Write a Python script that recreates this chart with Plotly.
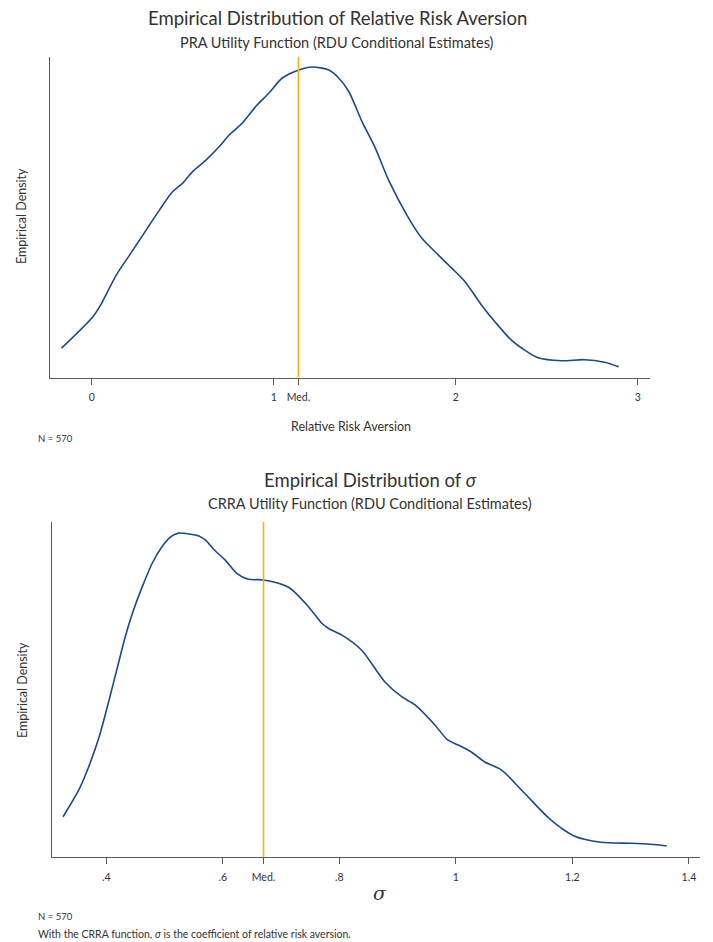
import plotly.graph_objects as go

# Kernel density of the PRA relative risk aversion estimates
rra_x = [-0.166, 0.007, 0.044, 0.135, 0.208, 0.299, 0.372, 0.445, 0.500, 0.554,
         0.628, 0.701, 0.755, 0.828, 0.901, 0.974, 1.047, 1.138, 1.211, 1.303,
         1.357, 1.412, 1.485, 1.558, 1.631, 1.741, 1.813, 1.905, 1.978, 2.051,
         2.142, 2.215, 2.306, 2.379, 2.452, 2.580, 2.708, 2.817, 2.895]
rra_density = [0.059, 0.122, 0.142, 0.205, 0.245, 0.295, 0.335, 0.372, 0.389, 0.412,
               0.435, 0.462, 0.485, 0.509, 0.542, 0.569, 0.599, 0.615, 0.621, 0.615,
               0.599, 0.572, 0.512, 0.459, 0.395, 0.319, 0.279, 0.245, 0.219, 0.192,
               0.145, 0.112, 0.075, 0.055, 0.040, 0.034, 0.036, 0.031, 0.022]
rra_median = 1.136
rra_ticks = [0, 1, 2, 3]
rra_ticktext = ["0", "1", "2", "3"]

# Kernel density of the CRRA sigma estimates
sig_x = [0.326, 0.353, 0.370, 0.388, 0.405, 0.422, 0.432, 0.445, 0.462, 0.479,
         0.496, 0.510, 0.524, 0.542, 0.559, 0.570, 0.587, 0.604, 0.624, 0.644,
         0.670, 0.713, 0.747, 0.770, 0.781, 0.804, 0.838, 0.878, 0.907, 0.930,
         0.964, 0.986, 1.004, 1.026, 1.049, 1.078, 1.118, 1.163, 1.203, 1.249,
         1.300, 1.334, 1.362]
sig_density = [0.365, 0.606, 0.815, 1.085, 1.416, 1.766, 1.971, 2.196, 2.436, 2.646,
               2.796, 2.881, 2.917, 2.910, 2.892, 2.856, 2.759, 2.676, 2.556, 2.502,
               2.496, 2.430, 2.255, 2.106, 2.061, 2.001, 1.866, 1.580, 1.445, 1.371,
               1.191, 1.056, 1.011, 0.950, 0.860, 0.786, 0.576, 0.336, 0.192, 0.135,
               0.126, 0.117, 0.102]
sig_median = 0.670
sig_ticks = [0.4, 0.6, 0.8, 1.0, 1.2, 1.4]
sig_ticktext = [".4", ".6", ".8", "1", "1.2", "1.4"]

W, H = 713, 942
NAVY = "#1b4a8a"
GOLD = "#f2b40f"
AXIS = "#5a5a5a"
TXT = "#333333"
FONT = "Lato"


def px_x(p):
    return p / W


def px_y(p):
    return 1 - p / H


fig = go.Figure()

fig.add_trace(go.Scatter(x=rra_x, y=rra_density, mode="lines",
                         line=dict(color=NAVY, width=1.6, shape="spline", smoothing=0.8),
                         xaxis="x", yaxis="y", showlegend=False))
fig.add_trace(go.Scatter(x=[rra_median, rra_median], y=[0, 0.641], mode="lines",
                         line=dict(color=GOLD, width=1.6), xaxis="x", yaxis="y", showlegend=False))
fig.add_trace(go.Scatter(x=sig_x, y=sig_density, mode="lines",
                         line=dict(color=NAVY, width=1.6, shape="spline", smoothing=0.8),
                         xaxis="x2", yaxis="y2", showlegend=False))
fig.add_trace(go.Scatter(x=[sig_median, sig_median], y=[0, 3.02], mode="lines",
                         line=dict(color=GOLD, width=1.6), xaxis="x2", yaxis="y2", showlegend=False))

xcommon = dict(showline=True, linecolor=AXIS, linewidth=1.2, ticks="outside", ticklen=6,
               tickcolor=AXIS, tickwidth=1, showgrid=False, zeroline=False,
               tickfont=dict(family=FONT, size=10.5, color=TXT), ticklabelstandoff=4)
ycommon = dict(showline=True, linecolor=AXIS, linewidth=1.2, showticklabels=False, ticks="",
               showgrid=False, zeroline=False)

fig.update_layout(
    width=W, height=H, margin=dict(l=0, r=0, t=0, b=0),
    paper_bgcolor="white", plot_bgcolor="white",
    xaxis=dict(domain=[px_x(50), px_x(650)], range=[-0.229, 3.067], anchor="y",
               tickvals=rra_ticks + [rra_median], ticktext=rra_ticktext + ["Med."], **xcommon),
    yaxis=dict(domain=[px_y(377.7), px_y(57)], range=[0, 0.641], anchor="x", **ycommon),
    xaxis2=dict(domain=[px_x(52), px_x(700)], range=[0.307, 1.419], anchor="y2",
                tickvals=sig_ticks + [sig_median], ticktext=sig_ticktext + ["Med."], **xcommon),
    yaxis2=dict(domain=[px_y(857.3), px_y(521.7)], range=[0, 3.02], anchor="x2", **ycommon),
)


def note(text, x, y, size, xanchor="center", angle=0, family=FONT):
    fig.add_annotation(text=text, x=px_x(x), y=px_y(y), xref="paper", yref="paper",
                       xanchor=xanchor, yanchor="middle", showarrow=False, textangle=angle,
                       font=dict(family=family, size=size, color=TXT))


# upper panel text
note("Empirical Distribution of Relative Risk Aversion", 337, 18, 18.5)
note("PRA Utility Function (RDU Conditional Estimates)", 337, 43, 14.5)
note("Empirical Density", 22, 216, 12.5, angle=-90)
note("Relative Risk Aversion", 351, 426, 12.5)
note("N = 570", 36, 438, 9.5, xanchor="left")

# lower panel text
note("Empirical Distribution of <i>σ</i>", 370, 480, 18.5)
note("CRRA Utility Function (RDU Conditional Estimates)", 370, 503, 14.5)
note("Empirical Density", 22, 690, 12.5, angle=-90)
note("<i>σ</i>", 380, 893, 19, family="DejaVu Serif")
note("N = 570", 36, 916, 9.5, xanchor="left")
note("With the CRRA function, <i>σ</i> is the coefficient of relative risk aversion.", 36, 934, 10.5, xanchor="left")

fig.write_html("out.html")
